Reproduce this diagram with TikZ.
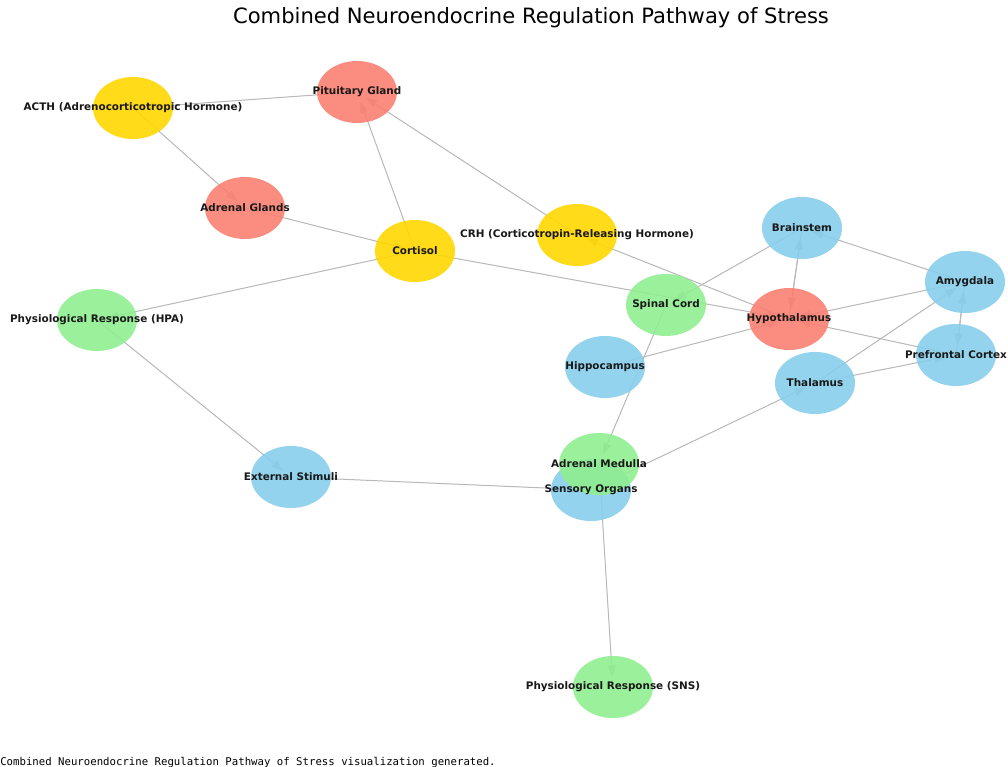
\documentclass[tikz,border=0pt]{standalone}
\usepackage{fontspec}
\setmainfont{DejaVu Sans}
\setmonofont{DejaVu Sans Mono}
\usetikzlibrary{arrows.meta,shapes.geometric}
\usepackage{xcolor}
\pgfdeclarelayer{background}
\pgfsetlayers{background,main}
\definecolor{hred}{HTML}{FA8072}
\definecolor{hgold}{HTML}{FFD700}
\definecolor{hgreen}{HTML}{90EE90}
\definecolor{hblue}{HTML}{87CEEB}
\definecolor{edgegray}{HTML}{B8B8B8}

\begin{document}
\begin{tikzpicture}[
  x=0.025cm, y=-0.025cm,
  reg/.style={ellipse, minimum width=2cm, minimum height=1.55cm, inner sep=0pt, fill opacity=0.9},
  lbl/.style={font=\fontsize{7.4}{8}\selectfont\bfseries, text=black!90, text opacity=1, inner sep=0pt},
  arr/.style={-{Triangle[length=2.9mm,width=2mm]}, draw=edgegray, fill=edgegray, line width=0.7pt, shorten >=0.25cm}
]
  \useasboundingbox (0,0) rectangle (1008,767);

  % HPA axis
  \node[reg, fill=hgold, label={[lbl]center:ACTH (Adrenocorticotropic Hormone)}] (acth) at (133,108) {};
  \node[reg, fill=hred, label={[lbl]center:Pituitary Gland}] (pit) at (357,92) {};
  \node[reg, fill=hred, label={[lbl]center:Adrenal Glands}] (adg) at (245,208) {};
  \node[reg, fill=hgold, label={[lbl]center:Cortisol}] (cort) at (415,251) {};
  \node[reg, fill=hgold, label={[lbl]center:CRH (Corticotropin-Releasing Hormone)}] (crh) at (577,235) {};
  \node[reg, fill=hgreen, label={[lbl]center:Physiological Response (HPA)}] (hpa) at (97,320) {};
  \node[reg, fill=hred, label={[lbl]center:Hypothalamus}] (hyp) at (789,319) {};

  % brain and SNS
  \node[reg, fill=hblue, label={[lbl]center:Brainstem}] (bst) at (802,228) {};
  \node[reg, fill=hblue, label={[lbl]center:Amygdala}] (amy) at (965,282) {};
  \node[reg, fill=hgreen, label={[lbl]center:Spinal Cord}] (spc) at (666,305) {};
  \node[reg, fill=hblue, label={[lbl]center:Hippocampus}] (hip) at (605,367) {};
  \node[reg, fill=hblue, label={[lbl]center:Prefrontal Cortex}] (pfc) at (956,355) {};
  \node[reg, fill=hblue, label={[lbl]center:Thalamus}] (thal) at (815,383) {};
  \node[reg, fill=hblue, label={[lbl]center:External Stimuli}] (ext) at (291,477) {};
  \node[reg, fill=hblue] (sens) at (591,490) {};
  \node[reg, fill=hgreen, label={[lbl]center:Adrenal Medulla}] (amed) at (599,464) {};
  \node[lbl] (sens-lbl) at (sens) {Sensory Organs};
  \node[reg, fill=hgreen, label={[lbl]center:Physiological Response (SNS)}] (sns) at (613,687) {};

  \begin{pgfonlayer}{background}
    \draw[arr] (pit.center) -- (acth.center);
    \draw[arr] (acth.center) -- (adg.center);
    \draw[arr] (crh.center) -- (pit.center);
    \draw[arr] (cort.center) -- (pit.center);
    \draw[arr] (hyp.center) -- (crh.center);
    \draw[arr] (adg.center) -- (cort.center);
    \draw[arr] (cort.center) -- (hyp.center);
    \draw[arr] (cort.center) -- (hpa.center);
    \draw[arr] (hpa.center) -- (ext.center);
    \draw[arr] (ext.center) -- (sens.center);
    \draw[arr] (sens.center) -- (thal.center);
    \draw[arr] (amed.center) -- (sns.center);
    \draw[arr] (spc.center) -- (amed.center);
    \draw[arr] (thal.center) -- (amy.center);
    \draw[arr] (thal.center) -- (pfc.center);
    \draw[arr] (amy.center) -- (pfc.center);
    \draw[arr] (pfc.center) -- (amy.center);
    \draw[arr] (amy.center) -- (bst.center);
    \draw[arr] (amy.center) -- (hyp.center);
    \draw[arr] (pfc.center) -- (hyp.center);
    \draw[arr] (hip.center) -- (hyp.center);
    \draw[arr] (bst.center) -- (spc.center);
    \draw[arr] (bst.center) -- (hyp.center);
    \draw[arr] (hyp.center) -- (bst.center);
  \end{pgfonlayer}

  \node[font=\fontsize{15}{17}\selectfont, inner sep=0pt] (title) at (531,18) {Combined Neuroendocrine Regulation Pathway of Stress};
  \node[font=\ttfamily\fontsize{7.6}{9}\selectfont, anchor=base west, inner sep=0pt] (foot) at (0,765) {Combined Neuroendocrine Regulation Pathway of Stress visualization generated.};
\end{tikzpicture}
\end{document}
